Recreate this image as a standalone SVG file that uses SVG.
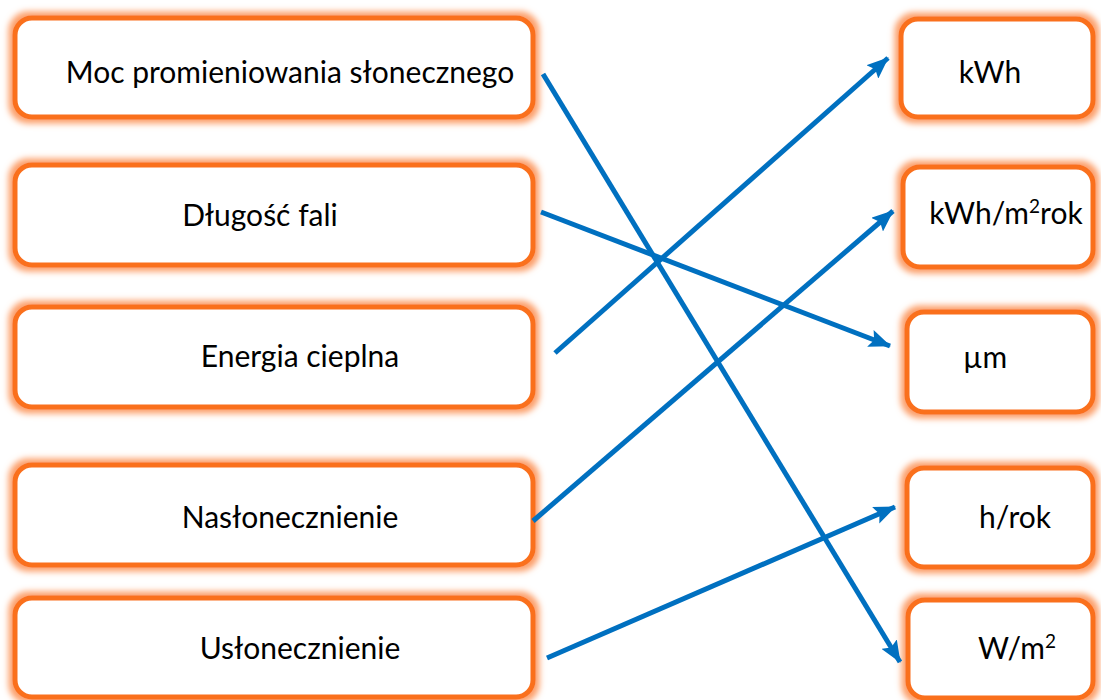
<svg xmlns="http://www.w3.org/2000/svg" width="1101" height="700" viewBox="0 0 1101 700">
<style>
.box{fill:#fff;stroke:#FA6F1E;stroke-width:5;filter:url(#glow)}
.t{font-family:Lato,"Liberation Sans",sans-serif;font-size:30px;fill:#000;text-anchor:middle}
.sup{font-size:19px}
.c{stroke:#0070C0;stroke-width:5;fill:none;marker-end:url(#ah)}
</style>
<defs>
<filter id="glow" x="-10%" y="-25%" width="120%" height="150%">
<feMorphology in="SourceAlpha" operator="dilate" radius="4" result="d"/>
<feGaussianBlur in="d" stdDeviation="3" result="b"/>
<feFlood flood-color="#FC9E68" flood-opacity="1"/>
<feComposite in2="b" operator="in" result="g"/>
<feMerge><feMergeNode in="g"/><feMergeNode in="SourceGraphic"/></feMerge>
</filter>
<marker id="ah" markerUnits="userSpaceOnUse" markerWidth="22" markerHeight="18" refX="21" refY="9" orient="auto">
<path d="M0,0 L22,9 L0,18 L4,9 Z" fill="#0070C0"/>
</marker>
</defs>
<rect width="1101" height="700" fill="#fff"/>
<g id="n-moc"><rect class="box" x="15" y="18" width="518" height="99" rx="17"/><text class="t" x="290" y="83">Moc promieniowania słonecznego</text></g>
<g id="n-dlugosc"><rect class="box" x="15" y="165" width="518" height="100" rx="17"/><text class="t" x="260" y="226">Długość fali</text></g>
<g id="n-energia"><rect class="box" x="15" y="307" width="518" height="100" rx="17"/><text class="t" x="300" y="367">Energia cieplna</text></g>
<g id="n-naslon"><rect class="box" x="15" y="465" width="518" height="100" rx="17"/><text class="t" x="290" y="528">Nasłonecznienie</text></g>
<g id="n-uslon"><rect class="box" x="15" y="598" width="518" height="99" rx="17"/><text class="t" x="300" y="659">Usłonecznienie</text></g>
<g id="n-kwh"><rect class="box" x="901" y="19" width="192" height="98" rx="17"/><text class="t" x="990" y="83">kWh</text></g>
<g id="n-kwhm2"><rect class="box" x="903" y="167" width="190" height="100" rx="17"/><text class="t" x="1006" y="224">kWh/m<tspan class="sup" dy="-11">2</tspan><tspan dy="11">rok</tspan></text></g>
<g id="n-um"><rect class="box" x="907" y="312" width="186" height="100" rx="17"/><text class="t" x="985" y="368">µm</text></g>
<g id="n-hrok"><rect class="box" x="907" y="468" width="186" height="99" rx="17"/><text class="t" x="1015" y="528">h/rok</text></g>
<g id="n-wm2"><rect class="box" x="908" y="600" width="185" height="98" rx="17"/><text class="t" x="1017" y="659">W/m<tspan class="sup" dy="-11">2</tspan></text></g>
<g id="connectors">
<line class="c" x1="543" y1="74" x2="900" y2="662"/>
<line class="c" x1="541" y1="212" x2="890" y2="346"/>
<line class="c" x1="555" y1="353" x2="888" y2="58"/>
<line class="c" x1="533" y1="521" x2="893" y2="211"/>
<line class="c" x1="547" y1="658" x2="895" y2="507"/>
</g>
</svg>
